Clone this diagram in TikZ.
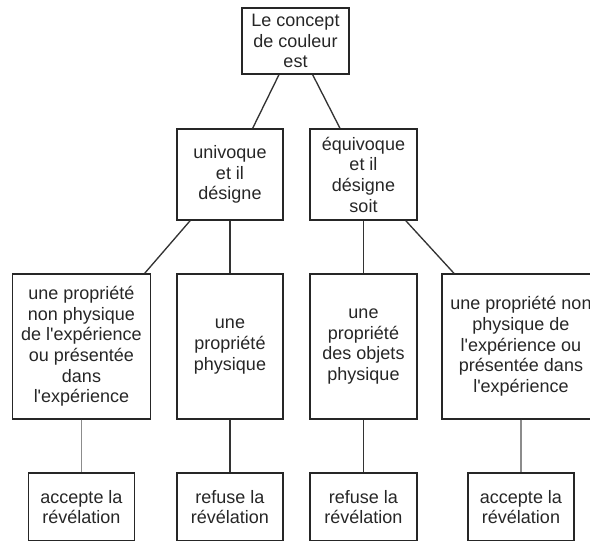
\documentclass[tikz,border=0pt]{standalone}
\usepackage{fontspec}
\setmainfont{Liberation Sans}
\newfontfamily\boxfont{Liberation Sans}

\begin{document}
\begin{tikzpicture}[x=0.75pt, y=-0.75pt]
        \tikzset{
          box/.style={draw=black!85, line width=1pt, align=center, inner sep=0pt, text=black!85,
                      font=\boxfont\fontsize{13.5}{15.5}\selectfont, minimum width=79.5pt},
          link/.style={draw=black!80, line width=1pt},
          glink/.style={draw=black!45, line width=1pt}
        }
        \useasboundingbox (0,0) rectangle (590,540);
        \clip (0,0) rectangle (590,540);

        % — top —
        \node[box, minimum width=80.25pt, minimum height=49.5pt] (root) at (295.5,41) {Le concept\\de couleur\\est};

        % — row 2 —
        \node[box, minimum height=68.25pt] (uni)  at (230,174.5)   {univoque\\et il\\désigne};
        \node[box, minimum width=80.25pt, minimum height=68.25pt] (equi) at (363.5,174.5) {équivoque\\et il\\désigne\\soit};

        % — row 3 —
        \node[box, minimum width=103.5pt, minimum height=108.75pt] (p1) at (81.5,346.5)
          {une propriété\\non physique\\de l'expérience\\ou présentée\\dans\\l'expérience};
        \node[box, minimum height=108.75pt] (p2) at (230,346.5) {une\\propriété\\physique};
        \node[box, minimum width=80.25pt, minimum height=108.75pt] (p3) at (363.5,346.5) {une\\propriété\\des objets\\physique};
        \node[box, minimum width=118.5pt, minimum height=108.75pt] (p4) at (521,346.5)
          {une propriété non\\physique de\\l'expérience ou\\présentée dans\\l'expérience};

        % — row 4 —
        \node[box, minimum height=51pt] (r1) at (81.5,507)  {accepte la\\révélation};
        \node[box, minimum height=51pt] (r2) at (230,507)   {refuse la\\révélation};
        \node[box, minimum width=80.25pt, minimum height=51pt] (r3) at (363.5,507) {refuse la\\révélation};
        \node[box, minimum height=51pt] (r4) at (521,507)   {accepte la\\révélation};

        % links
        \draw[link] (root) -- (uni);
        \draw[link] (root) -- (equi);
        \draw[link] (uni) -- (p1);
        \draw[link] (uni) -- (p2);
        \draw[link] (equi) -- (p3);
        \draw[link] (equi) -- (p4);
        \draw[glink] (p1) -- (r1);
        \draw[link]  (p2) -- (r2);
        \draw[link]  (p3) -- (r3);
        \draw[glink] (p4) -- (r4);
\end{tikzpicture}
\end{document}
